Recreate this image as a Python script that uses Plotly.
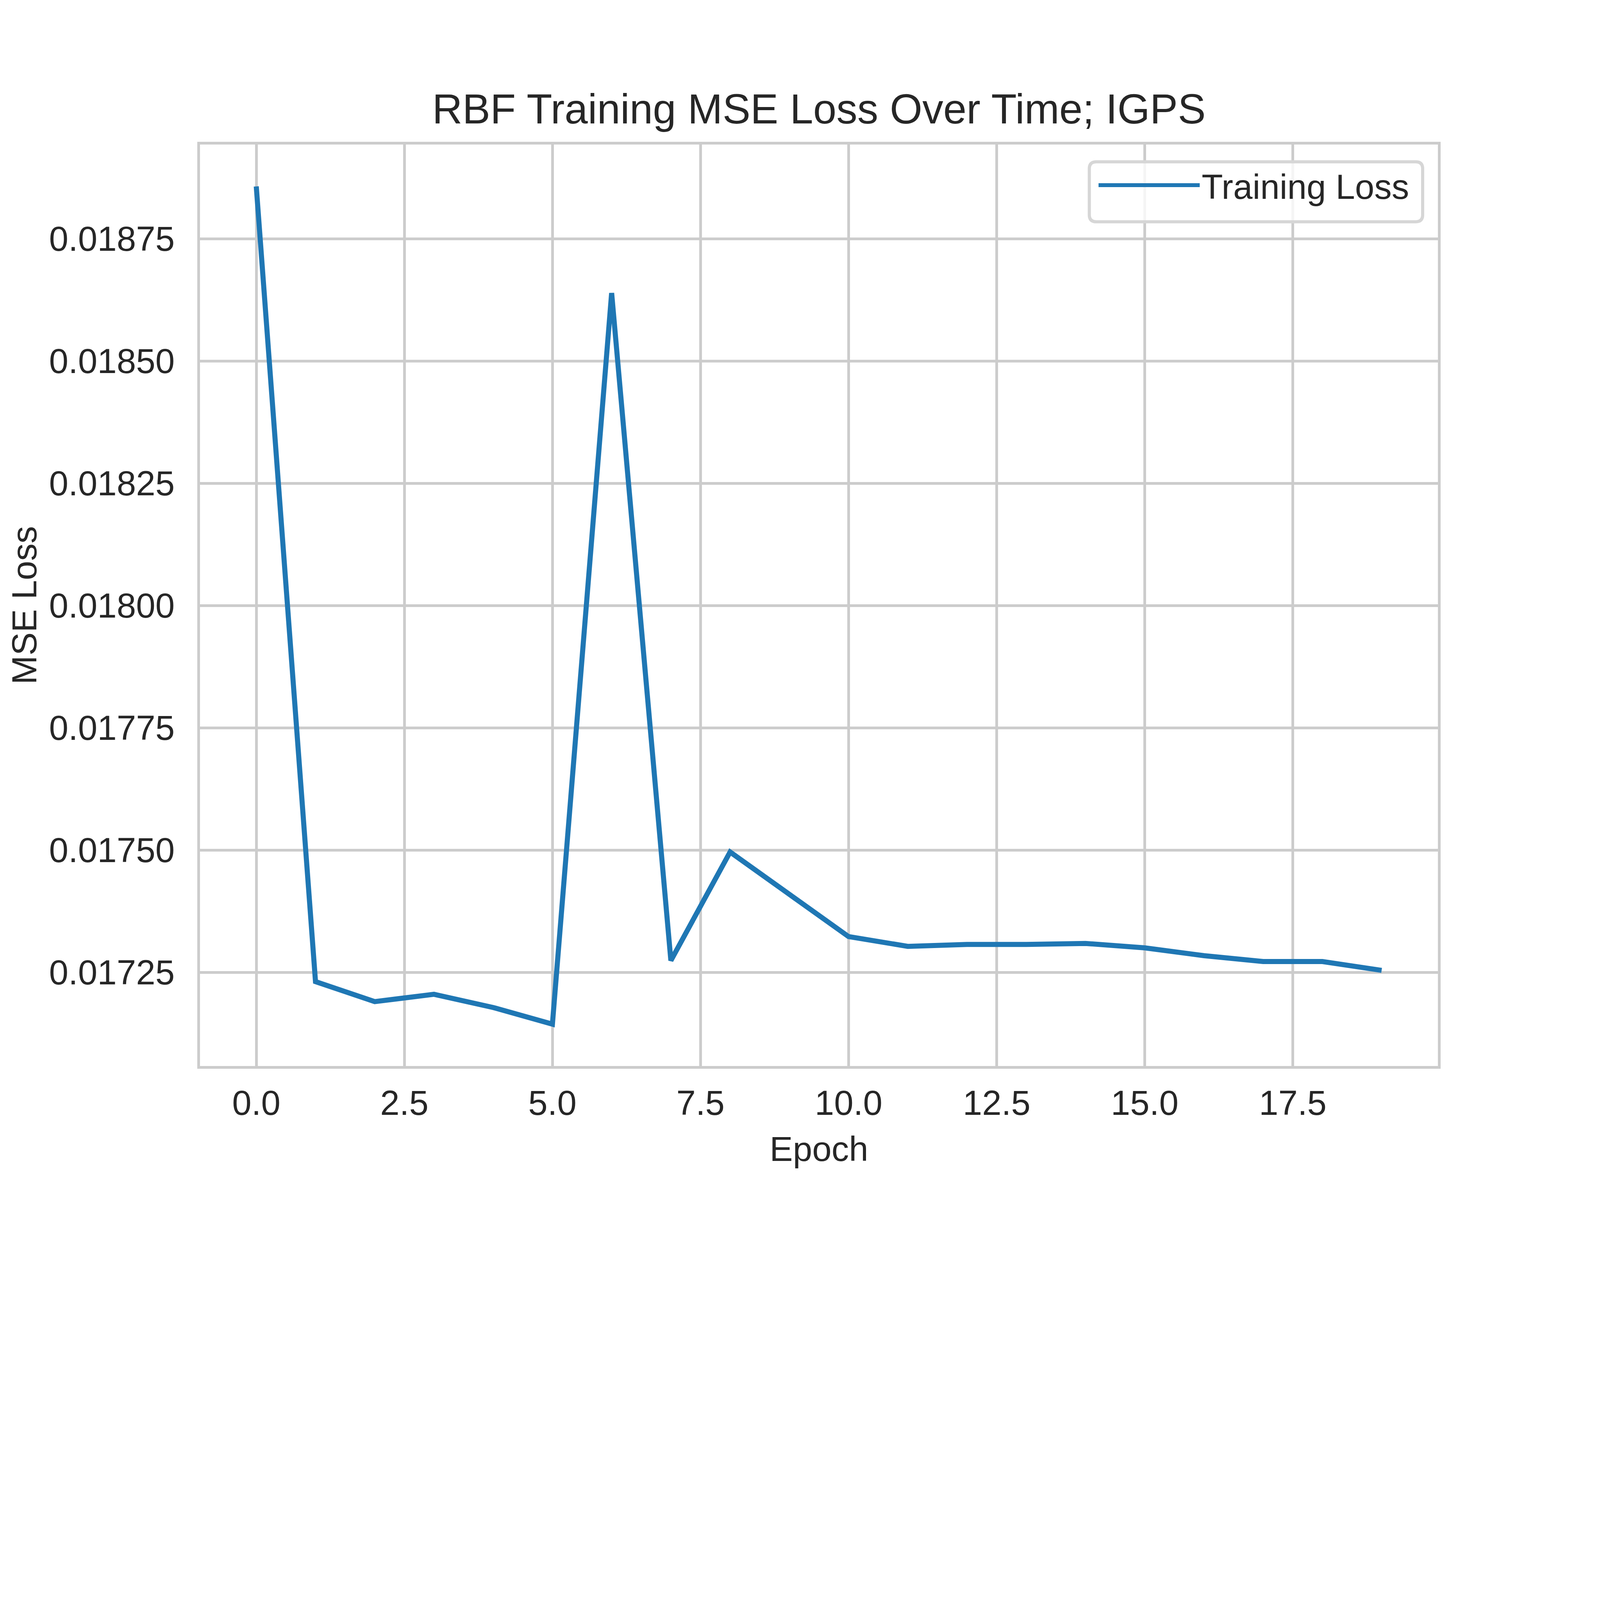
import plotly.graph_objects as go

# values
epochs = list(range(20))
train_loss = [0.018857, 0.017231, 0.017190, 0.017205, 0.017178, 0.017144,
              0.018639, 0.017274, 0.017496, 0.017409, 0.017323, 0.017303,
              0.017307, 0.017307, 0.017309, 0.017300, 0.017284, 0.017272,
              0.017272, 0.017254]

title_text = "RBF Training MSE Loss Over Time; IGPS"
x_label = "Epoch"
y_label = "MSE Loss"
series_name = "Training Loss"

FONT = "Liberation Sans, Arial, sans-serif"
TXT = "#262626"
GRID = "#cccccc"

# matplotlib-style 5% padding around the data
x_pad = 0.05 * (max(epochs) - min(epochs))
y_pad = 0.05 * (max(train_loss) - min(train_loss))

fig = go.Figure()
fig.add_trace(go.Scatter(x=epochs, y=train_loss, mode="lines", name=series_name,
                         line=dict(color="#1f77b4", width=13)))

# rounded legend frame like matplotlib's (paper coords of the plot area)
x0, x1, y0, y1 = 0.7184, 0.9877, 0.9162, 0.9812
rx, ry = 0.0056, 0.0075
frame = (f"M{x0+rx},{y0} L{x1-rx},{y0} Q{x1},{y0} {x1},{y0+ry} "
         f"L{x1},{y1-ry} Q{x1},{y1} {x1-rx},{y1} L{x0+rx},{y1} "
         f"Q{x0},{y1} {x0},{y1-ry} L{x0},{y0+ry} Q{x0},{y0} {x0+rx},{y0} Z")
fig.add_shape(type="path", path=frame, xref="paper", yref="paper", layer="above",
              fillcolor="rgba(255,255,255,0.8)", line=dict(color="#d6d6d6", width=8))

# y title as an annotation, kept just inside the left edge
fig.add_annotation(text=y_label, textangle=-90, showarrow=False,
                   xref="paper", yref="paper", x=-0.1585, y=0.5,
                   xanchor="left", yanchor="middle",
                   font=dict(size=89, color=TXT, family=FONT))

fig.update_layout(
    width=4000, height=3000,
    margin=dict(l=504, r=327, t=362, b=279),
    paper_bgcolor="white", plot_bgcolor="white",
    font=dict(family=FONT, size=89, color=TXT),
    title=dict(text=title_text, font=dict(size=107, color=TXT),
               x=0.5, xref="paper", xanchor="center",
               y=1, yref="paper", yanchor="bottom", pad=dict(b=54)),
    showlegend=True,
    legend=dict(x=0.7243, y=0.9558, xanchor="left", yanchor="middle",
                bgcolor="rgba(0,0,0,0)", borderwidth=0,
                font=dict(size=89, color=TXT), itemwidth=259),
)

fig.update_xaxes(range=[min(epochs) - x_pad, max(epochs) + x_pad],
                 dtick=2.5, tick0=0, tickformat=".1f", automargin=False,
                 showgrid=True, gridcolor=GRID, gridwidth=7, zeroline=False,
                 showline=True, mirror=True, linecolor=GRID, linewidth=7,
                 ticks="", ticklabelstandoff=11,
                 title=dict(text=x_label, font=dict(size=89, color=TXT), standoff=40))
fig.update_yaxes(range=[min(train_loss) - y_pad, max(train_loss) + y_pad],
                 dtick=0.00025, tick0=0, tickformat=".5f", automargin=False,
                 showgrid=True, gridcolor=GRID, gridwidth=7, zeroline=False,
                 showline=True, mirror=True, linecolor=GRID, linewidth=7,
                 ticks="", ticklabelstandoff=40)

fig.write_html("out.html")
